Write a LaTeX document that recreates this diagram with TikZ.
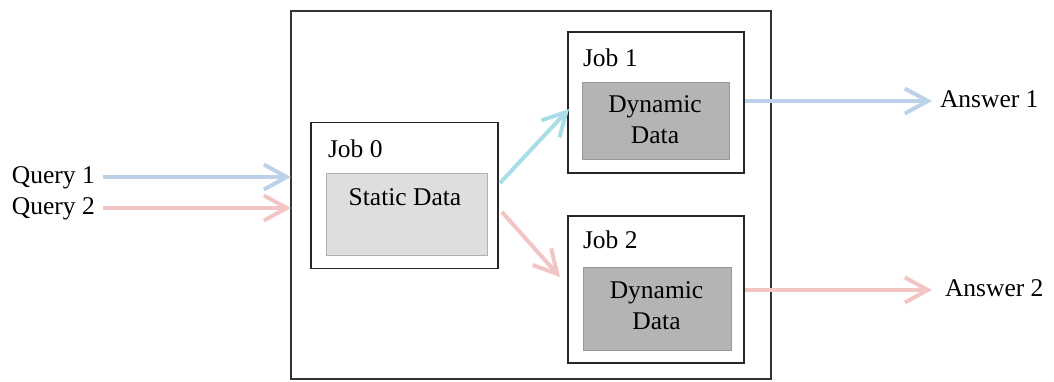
\documentclass[tikz,border=0pt]{standalone}
\usepackage{fontspec}
\setmainfont{Liberation Serif}
\usetikzlibrary{arrows.meta}
\definecolor{qblue}{HTML}{BCD2E8}
\definecolor{qpink}{HTML}{F2C4C4}
\definecolor{qcyan}{HTML}{A9DDE8}
\definecolor{sfill}{HTML}{DEDEDE}
\definecolor{sline}{HTML}{B0B0B0}
\definecolor{dfill}{HTML}{B4B4B4}
\definecolor{dline}{HTML}{999999}
\begin{document}
\begin{tikzpicture}[x=1pt,y=-1pt,
  every node/.style={font=\fontsize{25.5}{31}\selectfont, inner sep=0pt, outer sep=0pt},
  box/.style={draw=black!85, line width=1.5pt, fill=white},
  outerbox/.style={draw=black!80, line width=2pt, fill=white},
  staticbox/.style={draw=sline, line width=1pt, fill=sfill},
  dynbox/.style={draw=dline, line width=1pt, fill=dfill},
  flow/.style={line width=4pt, -{Straight Barb[length=23pt,width=25pt,line width=4pt]}},
  lbl/.style={anchor=base west},
  ctr/.style={anchor=base}]
\useasboundingbox (0,0) rectangle (1054,381);
\node[outerbox, minimum width=480pt, minimum height=368pt] (outer) at (531,195) {};
\node[box, minimum width=187pt, minimum height=146pt] (job0) at (404.5,195.5) {};
\node[staticbox, minimum width=161pt, minimum height=82pt] (static) at (406.5,214.5) {};
\node[box, minimum width=176pt, minimum height=141pt] (job1) at (656,102.5) {};
\node[dynbox, minimum width=147pt, minimum height=77pt] (dyn1) at (655.5,120.5) {};
\node[box, minimum width=176pt, minimum height=147pt] (job2) at (656,289.5) {};
\node[dynbox, minimum width=148pt, minimum height=83pt] (dyn2) at (657,308.5) {};

\node[lbl] (l0) at (328,157) {Job 0};
\node[lbl] (l1) at (583,66) {Job 1};
\node[lbl] (l2) at (583,248) {Job 2};
\node[ctr] (st) at (405,205) {Static Data};
\node[ctr] (d1a) at (655,112) {Dynamic};
\node[ctr] (d1b) at (655,143) {Data};
\node[ctr] (d2a) at (656.5,298) {Dynamic};
\node[ctr] (d2b) at (656.5,329) {Data};

\node[lbl] (q1) at (12,183) {Query 1};
\node[lbl] (q2) at (12,214) {Query 2};
\node[lbl] (a1) at (940,107) {Answer 1};
\node[lbl] (a2) at (945,296) {Answer 2};

\coordinate (q1s) at (103,177);
\coordinate (q2s) at (103,208);
\coordinate (j0a) at (500,183);
\coordinate (j0b) at (502,212);
\coordinate (j1in) at (569,109);
\coordinate (j2in) at (560,277);
\coordinate (a1s) at (745,101);
\coordinate (a2s) at (745,290);

\draw[flow, qblue] (q1s) -- (q1s -| outer.west);
\draw[flow, qpink] (q2s) -- (q2s -| outer.west);
\draw[flow, qcyan] (j0a) -- (j1in);
\draw[flow, qpink] (j0b) -- (j2in);
\draw[flow, qblue] (a1s) -- ([xshift=-8pt]a1.west |- a1s);
\draw[flow, qpink] (a2s) -- ([xshift=-13pt]a2.west |- a2s);
\end{tikzpicture}
\end{document}
